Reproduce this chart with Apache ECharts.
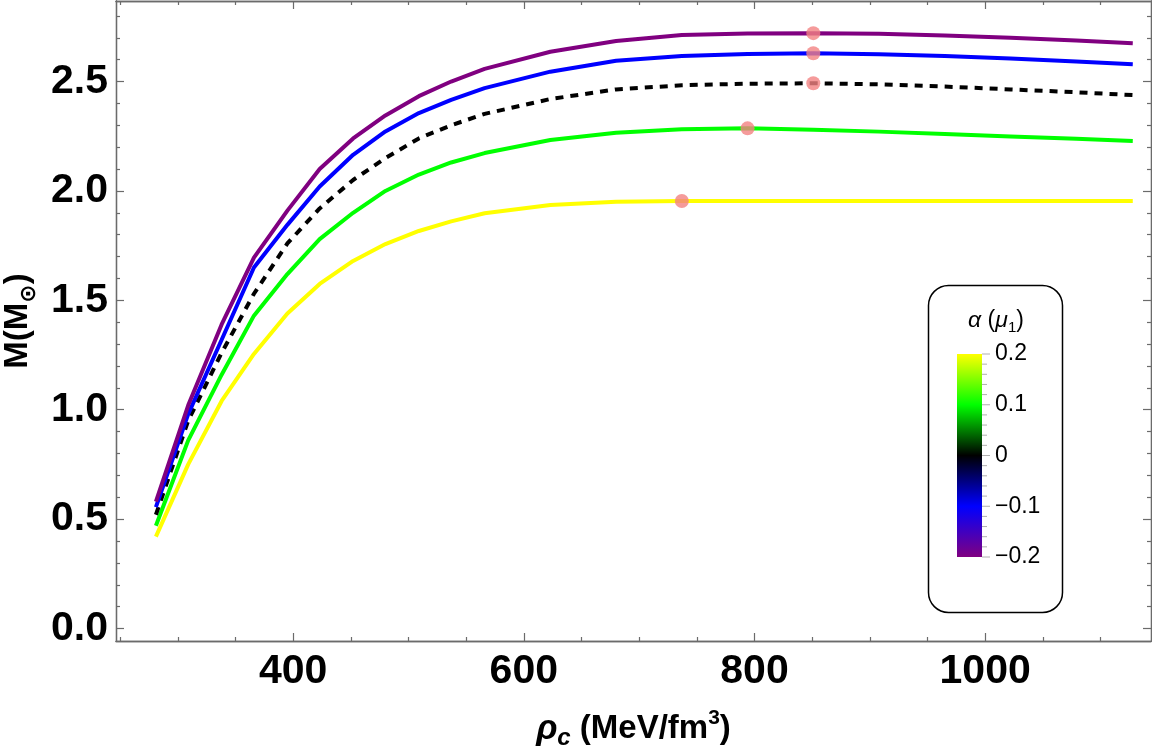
<!DOCTYPE html>
<html lang="en">
<head>
<meta charset="UTF-8" />
<title>M(rho_c) for several alpha</title>
<script src="https://cdn.jsdelivr.net/npm/echarts@6.0.0/dist/echarts.min.js"></script>
<style>
  html, body { margin: 0; padding: 0; background: #fff; }
  #main { width: 1152px; height: 748px; }
</style>
</head>
<body>
<div id="main"></div>
<script>
// central density grid (MeV/fm^3)
const rho = [281, 309, 338, 366, 395, 423, 452, 480, 509, 537, 566,
             623, 680, 737, 794, 851, 908, 965, 1022, 1079, 1128];

// mass (M_sun) for each alpha
const massAm02 = [0.58, 1.02, 1.39, 1.695, 1.91, 2.10, 2.24, 2.345, 2.433, 2.50, 2.558,
                  2.636, 2.685, 2.713, 2.719, 2.721, 2.718, 2.710, 2.700, 2.688, 2.675];
const massAm01 = [0.555, 0.98, 1.32, 1.65, 1.845, 2.02, 2.165, 2.272, 2.356, 2.416, 2.47,
                  2.545, 2.595, 2.617, 2.626, 2.629, 2.625, 2.617, 2.605, 2.592, 2.579];
const massA0   = [0.52, 0.95, 1.26, 1.53, 1.76, 1.92, 2.05, 2.15, 2.24, 2.30, 2.352,
                  2.42, 2.464, 2.483, 2.490, 2.492, 2.487, 2.477, 2.464, 2.451, 2.438];
const massAp01 = [0.47, 0.86, 1.16, 1.43, 1.62, 1.78, 1.90, 2.00, 2.075, 2.13, 2.173,
                  2.233, 2.266, 2.282, 2.286, 2.280, 2.271, 2.260, 2.249, 2.238, 2.228];
const massAp02 = [0.42, 0.75, 1.04, 1.255, 1.44, 1.575, 1.68, 1.757, 1.817, 1.861, 1.898,
                  1.936, 1.951, 1.954, 1.954, 1.954, 1.954, 1.954, 1.954, 1.954, 1.954];

const xMajor = [400, 600, 800, 1000];
const xMinor = [250, 300, 350, 450, 500, 550, 650, 700, 750, 850, 900, 950, 1050, 1100];
const yMajor = [0, 0.5, 1, 1.5, 2, 2.5];
const yMinor = [0.1, 0.2, 0.3, 0.4, 0.6, 0.7, 0.8, 0.9, 1.1, 1.2, 1.3, 1.4,
                1.6, 1.7, 1.8, 1.9, 2.1, 2.2, 2.3, 2.4, 2.6, 2.7, 2.8];

const cbValues = [0.2, 0.1, 0, -0.1, -0.2];
const cbLabels = ['0.2', '0.1', '0', '\u22120.1', '\u22120.2'];

const X_MIN = 246.4, X_MAX = 1143.8;
const Y_MIN = -0.057, Y_MAX = 2.868;

const FONT = '"Liberation Sans", Arial, sans-serif';
const AXIS_COLOR = '#6b6b6b';

let myChart = echarts.init(document.getElementById('main'));

function pairs(ys) { return rho.map((x, i) => [x, ys[i]]); }

// max mass point of each curve
function maxPoint(ys) {
    let k = 0;
    for (let i = 1; i < ys.length; i++) if (ys[i] > ys[k]) k = i;
    return [rho[k], ys[k]];
}

// one axis per side for major ticks, one for minor ticks
function xAx(pos, ticks, len, withLabel) {
    return {
        type: 'value', position: pos, min: X_MIN, max: X_MAX,
        axisLine: { show: true, onZero: false, lineStyle: { color: AXIS_COLOR, width: 1.3 } },
        axisTick: { show: true, inside: true, length: len, customValues: ticks, lineStyle: { color: AXIS_COLOR, width: 1.2 } },
        axisLabel: withLabel ? {
            show: true, customValues: ticks, margin: 10,
            formatter: v => String(v),
            fontSize: 41, fontWeight: 'bold', color: '#000', fontFamily: FONT
        } : { show: false },
        splitLine: { show: false }
    };
}
function yAx(pos, ticks, len, withLabel) {
    return {
        type: 'value', position: pos, min: Y_MIN, max: Y_MAX,
        axisLine: { show: true, onZero: false, lineStyle: { color: AXIS_COLOR, width: 1.3 } },
        axisTick: { show: true, inside: true, length: len, customValues: ticks, lineStyle: { color: AXIS_COLOR, width: 1.2 } },
        axisLabel: withLabel ? {
            show: true, customValues: ticks, margin: 8,
            formatter: v => v.toFixed(1),
            fontSize: 41, fontWeight: 'bold', color: '#000', fontFamily: FONT
        } : { show: false },
        splitLine: { show: false }
    };
}

let xBottom = xAx('bottom', xMajor, 8, true);
xBottom.name = '{r|\u03c1}{c|c}{n| (MeV/fm}{p|3}{n|)}';
xBottom.nameLocation = 'middle';
xBottom.nameGap = 67;
xBottom.nameTextStyle = {
    color: '#000', fontFamily: FONT, fontWeight: 'bold', fontSize: 33,
    rich: {
        r: { fontSize: 35, fontStyle: 'italic', fontWeight: 'bold', fontFamily: FONT, lineHeight: 42, verticalAlign: 'middle' },
        c: { fontSize: 24, fontStyle: 'italic', fontWeight: 'bold', fontFamily: FONT, lineHeight: 28, verticalAlign: 'bottom' },
        n: { fontSize: 33, fontWeight: 'bold', fontFamily: FONT, lineHeight: 42, verticalAlign: 'middle' },
        p: { fontSize: 21, fontWeight: 'bold', fontFamily: FONT, lineHeight: 20, verticalAlign: 'top' }
    }
};

let yLeft = yAx('left', yMajor, 8, true);
yLeft.name = '{m|M(M}{s|\u2299}{m|)}';
yLeft.nameLocation = 'middle';
yLeft.nameRotate = 90;
yLeft.nameGap = 71;
yLeft.nameTextStyle = {
    color: '#000', fontFamily: FONT, fontWeight: 'bold', fontSize: 33,
    rich: {
        m: { fontSize: 33, fontWeight: 'bold', fontFamily: FONT, lineHeight: 44, verticalAlign: 'middle' },
        s: { fontSize: 22, fontWeight: 'bold', fontFamily: 'DejaVu Sans', lineHeight: 32, verticalAlign: 'bottom' }
    }
};

// colour bar legend
const CB = { x: 957, y: 354, w: 25, h: 203 };
const cbY = v => CB.y + (0.2 - v) / 0.4 * CB.h;
let legendEls = [
    {
        type: 'rect', shape: { x: 928.5, y: 285.5, width: 134, height: 327, r: 20 },
        style: { fill: '#fff', stroke: '#000', lineWidth: 1.5 }, z: 20
    },
    {
        type: 'text', z: 21,
        style: {
            text: '{g|\u03b1}{n| (}{g|\u03bc}{s|1}{n|)}', x: 996, y: 321,
            textAlign: 'center', align: 'center', textVerticalAlign: 'middle', verticalAlign: 'middle',
            fill: '#000',
            rich: {
                g: { fontSize: 23, fontStyle: 'italic', fontFamily: FONT, lineHeight: 28, verticalAlign: 'middle' },
                n: { fontSize: 23, fontFamily: FONT, lineHeight: 28, verticalAlign: 'middle' },
                s: { fontSize: 15, fontFamily: FONT, lineHeight: 17, verticalAlign: 'bottom' }
            }
        }
    },
    {
        type: 'rect', z: 21, shape: { x: CB.x, y: CB.y, width: CB.w, height: CB.h },
        style: {
            fill: new echarts.graphic.LinearGradient(0, 0, 0, 1, [
                { offset: 0, color: '#ffff00' },
                { offset: 0.25, color: '#00ff00' },
                { offset: 0.5, color: '#000000' },
                { offset: 0.75, color: '#0000ff' },
                { offset: 1, color: '#800080' }
            ])
        }
    }
];
for (let i = 0; i <= 20; i++) {
    let yy = CB.y + i * CB.h / 20;
    legendEls.push({
        type: 'line', z: 21,
        shape: { x1: CB.x + CB.w, y1: yy, x2: CB.x + CB.w + (i % 5 === 0 ? 8 : 5), y2: yy },
        style: { stroke: '#b0b0b0', lineWidth: 1 }
    });
}
cbValues.forEach((v, i) => {
    legendEls.push({
        type: 'text', z: 21,
        style: {
            text: cbLabels[i], x: 995, y: cbY(v),
            textAlign: 'left', align: 'left', textVerticalAlign: 'middle', verticalAlign: 'middle',
            font: '23px ' + FONT, fill: '#000'
        }
    });
});

function lineSeries(ys, color, dashed) {
    return {
        type: 'line', xAxisIndex: 0, yAxisIndex: 0, data: pairs(ys),
        showSymbol: false, symbol: 'none', animation: false, z: 3,
        lineStyle: { color: color, width: 4, type: dashed ? [8, 7] : 'solid', cap: 'butt' }
    };
}

myChart.setOption({
    animation: false,
    backgroundColor: '#fff',
    grid: { left: 116, right: 1, top: 1, bottom: 107, containLabel: false, outerBoundsMode: 'none' },
    xAxis: [
        xBottom,
        xAx('bottom', xMinor, 4, false),
        xAx('top', xMajor, 8, false),
        xAx('top', xMinor, 4, false)
    ],
    yAxis: [
        yLeft,
        yAx('left', yMinor, 4, false),
        yAx('right', yMajor, 8, false),
        yAx('right', yMinor, 4, false)
    ],
    series: [
        lineSeries(massAp02, '#ffff00', false),
        lineSeries(massAp01, '#00ff00', false),
        lineSeries(massA0, '#000000', true),
        lineSeries(massAm01, '#0000ff', false),
        lineSeries(massAm02, '#800080', false),
        {
            type: 'scatter', xAxisIndex: 0, yAxisIndex: 0, z: 5,
            symbol: 'circle', symbolSize: 14, animation: false,
            itemStyle: { color: '#f38282' },
            data: [massAm02, massAm01, massA0, massAp01, massAp02].map(maxPoint)
        }
    ],
    graphic: legendEls
});
</script>
</body>
</html>
